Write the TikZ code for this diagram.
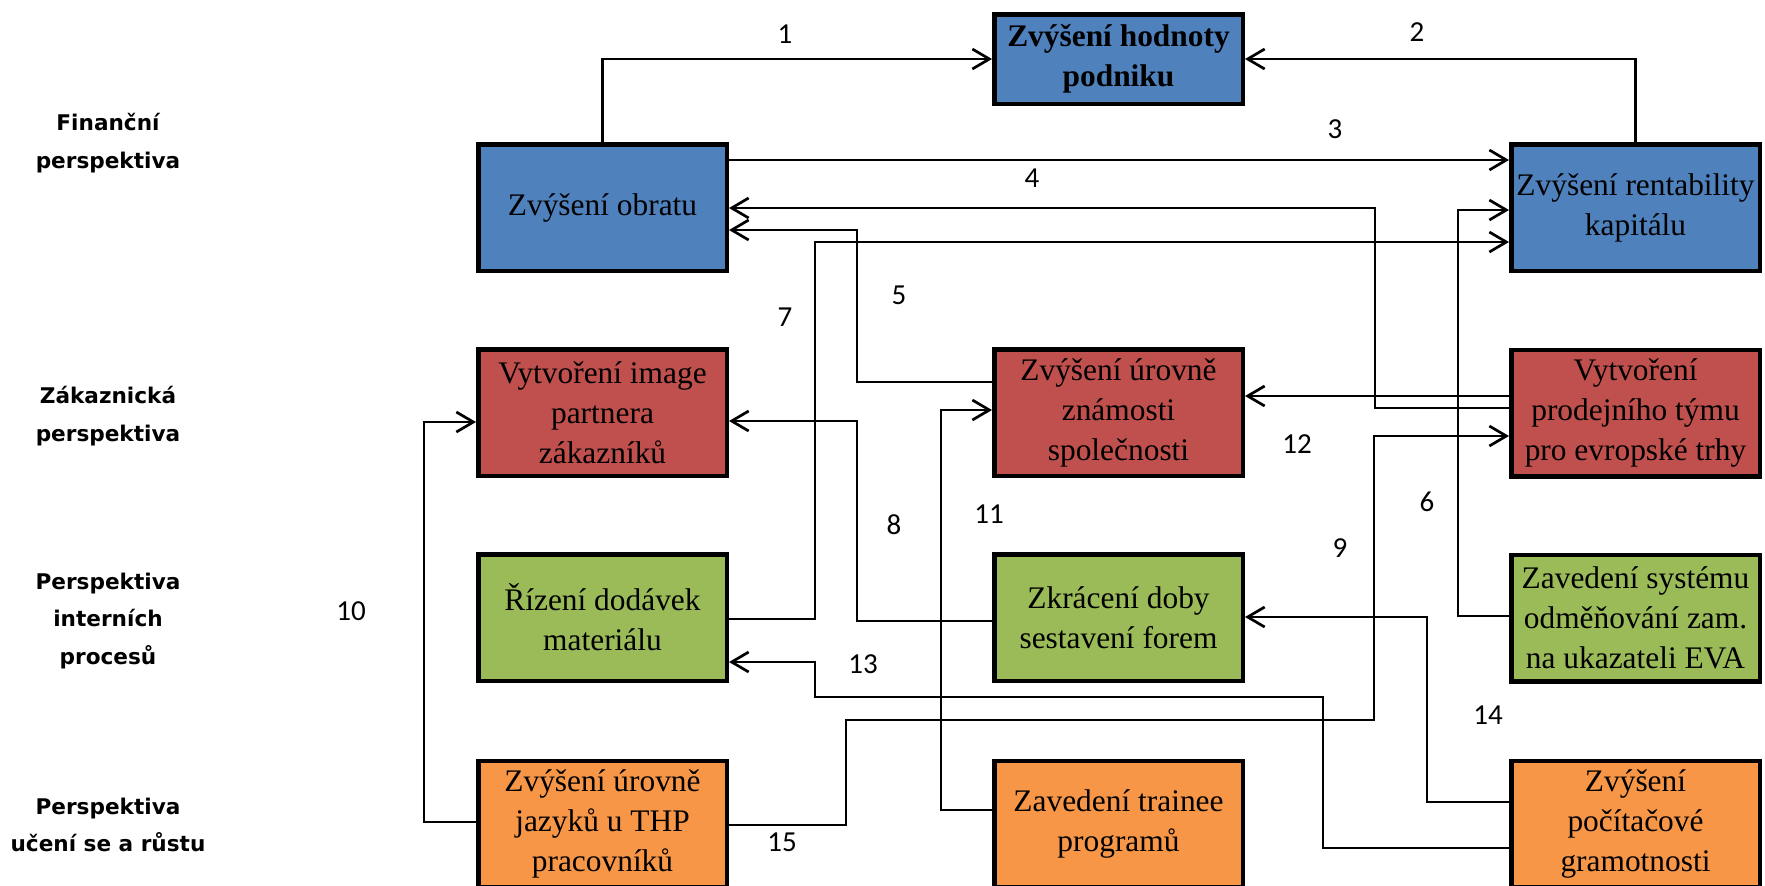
\documentclass[tikz,border=0pt]{standalone}
\usepackage{fontspec}
\setmainfont{Liberation Serif}
\newfontfamily\perspfont{DejaVu Sans}
\newfontfamily\cislofont{Carlito}
\usetikzlibrary{arrows.meta}
\definecolor{finblue}{HTML}{4F81BD}
\definecolor{zakred}{HTML}{C0504D}
\definecolor{intgreen}{HTML}{9BBB59}
\definecolor{rustorange}{HTML}{F79646}

\begin{document}
\begin{tikzpicture}[
    x=0.5pt, y=-0.5pt,
    cil/.style={rectangle, draw=black, line width=2.25pt, minimum width=124.25pt, minimum height=63.25pt, inner sep=1pt, align=center, font=\fontsize{15.7}{20}\selectfont},
    persp/.style={align=center, font=\perspfont\bfseries\fontsize{10.8}{18.7}\selectfont},
    cislo/.style={font=\cislofont\fontsize{14.5}{16}\selectfont, inner sep=0pt},
    vazba/.style={-{Straight Barb[length=8.5pt,width=10pt]}, line width=1.35pt}
]
\useasboundingbox (0,0) rectangle (1765,885);

% perspektivy
\node[persp] (pfin) at (108,143) {Finanční\\perspektiva};
\node[persp] (pzak) at (108,416) {Zákaznická\\perspektiva};
\node[persp] (pint) at (108,621) {Perspektiva\\interních\\procesů};
\node[persp] (pucen) at (108,825) {Perspektiva\\učení se a růstu};

% cile
\node[cil, fill=finblue, minimum height=44.75pt, font=\fontsize{15.7}{20}\selectfont\bfseries] (hodnota) at (1118.5,59) {Zvýšení hodnoty\\podniku};
\node[cil, fill=finblue] (obrat) at (602.5,207.5) {Zvýšení obratu};
\node[cil, fill=finblue] (rentab) at (1635.5,207.5) {Zvýšení rentability\\kapitálu};
\node[cil, fill=zakred] (image) at (602.5,412.5) {Vytvoření image\\partnera\\zákazníků};
\node[cil, fill=zakred] (znamost) at (1118.5,412.5) {Zvýšení úrovně\\známosti\\společnosti};
\node[cil, fill=zakred] (prodej) at (1635.5,413) {Vytvoření\\prodejního týmu\\pro evropské trhy};
\node[cil, fill=intgreen] (rizeni) at (602.5,617.5) {Řízení dodávek\\materiálu};
\node[cil, fill=intgreen] (zkraceni) at (1118.5,617.5) {Zkrácení doby\\sestavení forem};
\node[cil, fill=intgreen] (odmena) at (1635.5,618) {Zavedení systému\\odměňování zam.\\na ukazateli EVA};
\node[cil, fill=rustorange] (jazyky) at (602.5,824) {Zvýšení úrovně\\jazyků u THP\\pracovníků};
\node[cil, fill=rustorange] (trainee) at (1118.5,824) {Zavedení trainee\\programů};
\node[cil, fill=rustorange] (pocitac) at (1635.5,824) {Zvýšení\\počítačové\\gramotnosti};

% vazby
\draw[vazba] (obrat.north) |- (hodnota.west);
\draw[vazba] (rentab.north) |- (hodnota.east);
\draw[vazba] (obrat.east |- 0,160) -- (rentab.west |- 0,160);
\draw[vazba] (prodej.west |- 0,408) -| (1375,208) -- (obrat.east |- 0,208);
\draw[vazba] (znamost.west |- 0,382) -| (857,230) -- (obrat.east |- 0,230);
\draw[vazba] (odmena.west |- 0,616) -| (1458,210) -- (rentab.west |- 0,210);
\draw[vazba] (rizeni.east |- 0,619) -| (815,242) -- (rentab.west |- 0,242);
\draw[vazba] (zkraceni.west |- 0,621) -| (857,421) -- (image.east |- 0,421);
\draw[vazba] (jazyky.east |- 0,825) -| (846,720) -| (1374,436) -- (prodej.west |- 0,436);
\draw[vazba] (jazyky.west |- 0,822) -| (424,422) -- (image.west |- 0,422);
\draw[vazba] (trainee.west |- 0,810) -| (941,410) -- (znamost.west |- 0,410);
\draw[vazba] (prodej.west |- 0,396) -- (znamost.east |- 0,396);
\draw[vazba] (pocitac.west |- 0,848) -| (1323,697) -| (815,662) -- (rizeni.east |- 0,662);
\draw[vazba] (pocitac.west |- 0,802) -| (1427,617) -- (zkraceni.east |- 0,617);

% cisla vazeb
\node[cislo] (c1) at (785,34) {1};
\node[cislo] (c2) at (1417,32) {2};
\node[cislo] (c3) at (1335,129) {3};
\node[cislo] (c4) at (1032,178) {4};
\node[cislo] (c5) at (899,295) {5};
\node[cislo] (c6) at (1427,502) {6};
\node[cislo] (c7) at (785,317) {7};
\node[cislo] (c8) at (894,525) {8};
\node[cislo] (c9) at (1340,548) {9};
\node[cislo] (c10) at (351,611) {10};
\node[cislo] (c11) at (989,514) {11};
\node[cislo] (c12) at (1297,444) {12};
\node[cislo] (c13) at (863,664) {13};
\node[cislo] (c14) at (1488,715) {14};
\node[cislo] (c15) at (782,842) {15};
\end{tikzpicture}
\end{document}
